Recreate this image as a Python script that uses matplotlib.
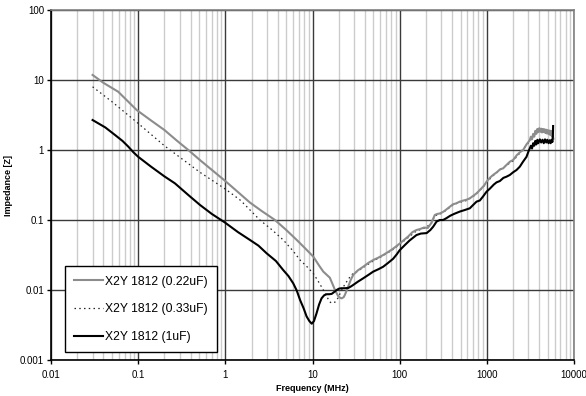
import matplotlib
matplotlib.use("Agg")
import matplotlib.pyplot as plt
from matplotlib.ticker import LogLocator, NullFormatter, FixedLocator, FixedFormatter

# ---- data (frequency in MHz, impedance in ohm) ----
f_022 = [0.03, 0.04, 0.059, 0.077, 0.096, 0.14, 0.2, 0.28, 0.376, 0.51, 0.7, 1.0, 1.4, 1.91, 2.6,
         3.71, 5.0, 6.58, 8.3, 10.2, 12.0, 13.3, 15.8, 17.3, 18.1, 19.7, 20.8, 21.6, 22.8, 23.6,
         25.7, 27.5, 29.3, 33, 38.2, 44, 49.7, 57, 64.7, 74, 84.3, 100, 125, 140, 156, 170, 190,
         210, 230, 253, 270, 289, 316, 340, 377, 410, 440, 490, 540, 585, 638, 700, 762, 869, 930,
         993, 1082, 1180, 1300, 1420, 1538, 1700, 1836, 2003, 2200, 2400, 2608, 2850, 3000, 3112,
         3200, 3300, 3400, 3500, 3600, 3700, 3800, 3900, 4000, 4100, 4200, 4300, 4400, 4500, 4600,
         4700, 4800, 4900, 5000, 5100, 5200, 5300, 5400, 5500, 5600, 5700, 5800]
z_022 = [11.8, 9.1, 6.8, 4.9, 3.73, 2.65, 1.93, 1.35, 1.0, 0.72, 0.52, 0.36, 0.25, 0.178, 0.135,
         0.1, 0.072, 0.052, 0.039, 0.030, 0.022, 0.0183, 0.0150, 0.0115, 0.0100, 0.0082, 0.0077,
         0.0076, 0.0079, 0.0086, 0.0112, 0.0140, 0.0164, 0.0190, 0.0215, 0.0245, 0.0268, 0.0290,
         0.0316, 0.0350, 0.039, 0.046, 0.058, 0.067, 0.072, 0.074, 0.078, 0.077, 0.090, 0.118,
         0.122, 0.124, 0.131, 0.140, 0.155, 0.168, 0.172, 0.183, 0.190, 0.195, 0.204, 0.222, 0.240,
         0.284, 0.31, 0.353, 0.40, 0.44, 0.48, 0.53, 0.547, 0.62, 0.68, 0.72, 0.84, 0.93, 1.0, 1.2,
         1.30, 1.39, 1.55, 1.42, 1.70, 1.55, 1.88, 1.70, 2.00, 1.80, 2.05, 1.82, 2.02, 1.78, 2.00,
         1.80, 1.98, 1.75, 1.95, 1.72, 1.92, 1.70, 1.90, 1.65, 1.88, 1.62, 1.85, 1.55, 1.45]

f_033 = [0.03, 0.05, 0.1, 0.2, 0.512, 1.03, 1.5, 2.49, 3.4, 4.61, 6.0, 7.2, 8.5, 10.2, 12.0, 13.3,
         14.5, 15.7, 16.6, 18.1, 19.5, 20.8, 22.5, 24.6, 27, 29.3, 33, 38.2, 49.7, 64.7, 84.3, 100,
         125, 156, 190, 230, 253, 289, 340, 410, 490, 585, 700, 869, 993, 1180, 1420, 1700, 2003,
         2400, 2850, 3112, 3400, 3715, 4000, 4425, 4800, 5277, 5700]
z_033 = [8.0, 4.9, 2.4, 1.15, 0.48, 0.27, 0.19, 0.1, 0.073, 0.052, 0.036, 0.0268, 0.022, 0.0173,
         0.0125, 0.0100, 0.0082, 0.0068, 0.0065, 0.0067, 0.0076, 0.0090, 0.0110, 0.0131, 0.0155,
         0.0173, 0.0185, 0.021, 0.026, 0.031, 0.038, 0.045, 0.056, 0.070, 0.076, 0.088, 0.115,
         0.121, 0.137, 0.165, 0.179, 0.19, 0.217, 0.278, 0.345, 0.43, 0.52, 0.61, 0.70, 0.91,
         1.17, 1.36, 1.50, 1.78, 1.95, 1.88, 1.85, 1.78, 1.50]

f_1u = [0.03, 0.042, 0.0542, 0.066, 0.0769, 0.088, 0.1, 0.14, 0.2, 0.264, 0.38, 0.512, 0.7, 0.99,
        1.4, 1.91, 2.4, 2.98, 3.8, 4.61, 5.3, 6.0, 6.6, 7.2, 7.9, 8.55, 9.2, 9.8, 10.4, 11.1, 11.9,
        12.7, 13.6, 14.5, 15.5, 16.6, 17.8, 18.9, 20.3, 21.6, 23.5, 25.7, 27.5, 29.3, 33, 38.2, 44,
        49.7, 57, 64.7, 74, 84.3, 92, 100, 115, 130, 156, 175, 204, 225, 242, 265, 289, 315, 343,
        380, 420, 490, 550, 638, 700, 762, 831, 900, 993, 1082, 1200, 1292, 1409, 1550, 1683, 1836,
        2000, 2191, 2390, 2600, 2853, 3000, 3200, 3300, 3399, 3500, 3600, 3700, 3800, 3900, 4055,
        4200, 4350, 4500, 4650, 4800, 4950, 5100, 5277, 5400, 5550, 5650, 5720, 5757]
z_1u = [2.68, 2.1, 1.64, 1.35, 1.12, 0.93, 0.80, 0.58, 0.42, 0.334, 0.225, 0.164, 0.122, 0.092,
        0.067, 0.052, 0.043, 0.0334, 0.026, 0.0193, 0.0158, 0.0125, 0.0098, 0.0072, 0.0055, 0.0042,
        0.0036, 0.0033, 0.0036, 0.0046, 0.0062, 0.0076, 0.0084, 0.0087, 0.0087, 0.0088, 0.0094,
        0.0100, 0.0105, 0.0106, 0.0106, 0.0107, 0.0112, 0.0118, 0.0131, 0.0147, 0.0165, 0.0183,
        0.0198, 0.0215, 0.0245, 0.028, 0.032, 0.037, 0.044, 0.051, 0.061, 0.064, 0.065, 0.072,
        0.080, 0.095, 0.100, 0.100, 0.106, 0.115, 0.122, 0.132, 0.138, 0.147, 0.165, 0.183, 0.19,
        0.215, 0.254, 0.28, 0.32, 0.345, 0.36, 0.40, 0.416, 0.44, 0.48, 0.518, 0.578, 0.68, 0.80,
        0.95, 1.15, 1.05, 1.25, 1.15, 1.35, 1.20, 1.40, 1.25, 1.42, 1.28, 1.40, 1.25, 1.42, 1.28,
        1.40, 1.25, 1.38, 1.25, 1.40, 1.30, 1.55, 2.2]

labels = ["X2Y 1812 (0.22uF)", "X2Y 1812 (0.33uF)", "X2Y 1812 (1uF)"]
x_ticks = [0.01, 0.1, 1, 10, 100, 1000, 10000]
x_tick_labels = ["0.01", "0.1", "1", "10", "100", "1000", "10000"]
y_ticks = [0.001, 0.01, 0.1, 1, 10, 100]
y_tick_labels = ["0.001", "0.01", "0.1", "1", "10", "100"]

plt.rcParams['font.family'] = ['Liberation Sans', 'DejaVu Sans']

fig = plt.figure(figsize=(5.86, 3.96), dpi=100)
ax = fig.add_axes([51/586, 36/396, 523/586, 350/396])
ax.set_xscale('log')
ax.set_yscale('log')
ax.set_xlim(0.01, 10000)
ax.set_ylim(0.001, 100)

ax.plot(f_033, z_033, color='#222222', lw=0.9, linestyle=(0, (1.2, 2.6)), label=labels[1], zorder=3)
ax.plot(f_022, z_022, color='#8c8c8c', lw=1.5, label=labels[0], zorder=4)
ax.plot(f_1u, z_1u, color='black', lw=1.5, label=labels[2], zorder=5)

ax.xaxis.set_major_locator(FixedLocator(x_ticks))
ax.xaxis.set_major_formatter(FixedFormatter(x_tick_labels))
ax.yaxis.set_major_locator(FixedLocator(y_ticks))
ax.yaxis.set_major_formatter(FixedFormatter(y_tick_labels))
ax.xaxis.set_minor_locator(LogLocator(base=10, subs=range(2, 10), numticks=20))
ax.xaxis.set_minor_formatter(NullFormatter())
ax.yaxis.set_minor_locator(FixedLocator([]))

ax.grid(True, which='major', axis='both', color='#3a3a3a', lw=1.0, zorder=1)
ax.grid(True, which='minor', axis='x', color='#cccccc', lw=1.0, zorder=0)
ax.set_axisbelow(True)

ax.tick_params(axis='both', which='major', direction='out', length=3, width=1, labelsize=7,
               color='black', pad=2)
ax.tick_params(axis='x', which='major', pad=4)
ax.tick_params(axis='x', which='minor', length=0)
for s in ['left', 'bottom']:
    ax.spines[s].set_color('black')
    ax.spines[s].set_linewidth(1.2)
for s in ['top', 'right']:
    ax.spines[s].set_color('#808080')
    ax.spines[s].set_linewidth(1.2)

ax.set_xlabel("Frequency (MHz)", fontsize=6.5, fontweight='bold', labelpad=3)
ax.set_ylabel("Impedance [Z]", fontsize=6.5, fontweight='bold', labelpad=5)

h, l = ax.get_legend_handles_labels()
order = [1, 0, 2]
leg = ax.legend([h[i] for i in order], [l[i] for i in order], loc='lower left',
                bbox_to_anchor=(14/523, 8/350), borderaxespad=0, fontsize=8.7,
                handlelength=2.4, handletextpad=0.15, labelspacing=1.3, borderpad=0.75,
                fancybox=False, framealpha=1, edgecolor='black')
leg.get_frame().set_linewidth(1.0)
leg.set_zorder(10)

fig.savefig("out.png", dpi=100)
